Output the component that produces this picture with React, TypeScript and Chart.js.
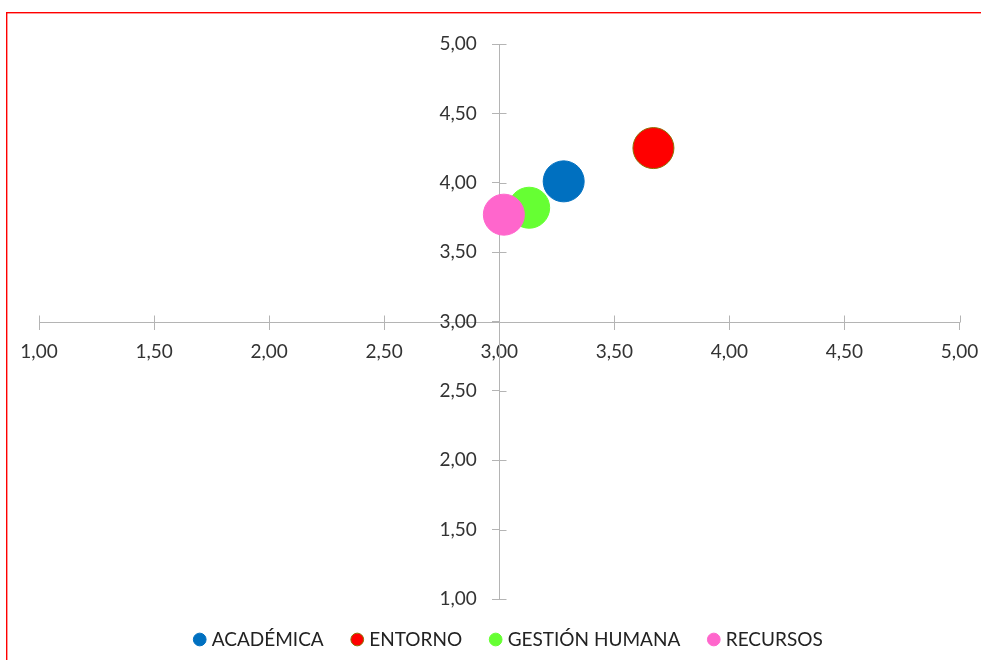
import { useEffect, useRef } from 'react';
import { Chart, registerables } from 'chart.js';

Chart.register(...registerables);

const categories = ['ACADÉMICA', 'ENTORNO', 'GESTIÓN HUMANA', 'RECURSOS'];
const xValues = [3.28, 3.67, 3.13, 3.02];
const yValues = [4.01, 4.25, 3.82, 3.77];
const bubbleSizes = [20.5, 20.5, 20.5, 20.5];
const fillColors = ['#0070C0', '#FF0000', '#66FF33', '#FF66CC'];
const borderColors = ['#0070C0', '#8C7000', '#66FF33', '#FF66CC'];
const xTickLabels = ['1,00', '1,50', '2,00', '2,50', '3,00', '3,50', '4,00', '4,50', '5,00'];
const yTickLabels = ['1,00', '1,50', '2,00', '2,50', '3,00', '3,50', '4,00', '4,50', '5,00'];
const axisMin = 1;
const axisMax = 5;
const axisStep = 0.5;
const crossValue = 3;

const AXIS_COLOR = '#B4B4B4';
const FONT = 'Lato';

const framePlugin = {
  id: 'frame',
  beforeDraw(chart: any) {
    const ctx = chart.ctx;
    ctx.save();
    ctx.fillStyle = '#FF0000';
    ctx.fillRect(6, 12, chart.width - 6, 1.4);
    ctx.fillRect(6, 12, 1.4, chart.height - 12);
    ctx.restore();
  },
};

const crossTicksPlugin = {
  id: 'crossTicks',
  beforeDatasetsDraw(chart: any) {
    const xs = chart.scales.x;
    const ys = chart.scales.y;
    const ctx = chart.ctx;
    const y0 = Math.round(ys.getPixelForValue(crossValue)) + 0.5;
    const x0 = Math.round(xs.getPixelForValue(crossValue)) + 0.5;
    ctx.save();
    ctx.strokeStyle = AXIS_COLOR;
    ctx.lineWidth = 1;
    ctx.beginPath();
    xs.ticks.forEach((t: any) => {
      const px = Math.round(xs.getPixelForValue(t.value)) + 0.5;
      ctx.moveTo(px, y0 - 7);
      ctx.lineTo(px, y0);
    });
    ys.ticks.forEach((t: any) => {
      const py = Math.round(ys.getPixelForValue(t.value)) + 0.5;
      ctx.moveTo(x0, py);
      ctx.lineTo(x0 + 7, py);
    });
    ctx.stroke();
    ctx.restore();
  },
};

export default function App() {
  const canvasRef = useRef<HTMLCanvasElement | null>(null);

  useEffect(() => {
    if (!canvasRef.current) return;
    const datasets = categories.map((name, i) => ({
      label: name,
      data: [{ x: xValues[i], y: yValues[i], r: bubbleSizes[i] }],
      backgroundColor: fillColors[i],
      borderColor: borderColors[i],
      borderWidth: 1,
      pointStyle: 'circle',
      order: categories.length - i,
    }));

    const chart = new Chart(canvasRef.current, {
      type: 'bubble',
      data: { datasets },
      options: {
        animation: false,
        responsive: false,
        events: [],
        layout: { padding: { left: 39, right: 0, top: 44, bottom: 1 } },
        plugins: {
          tooltip: { enabled: false },
          legend: {
            position: 'bottom',
            labels: {
              usePointStyle: true,
              pointStyle: 'circle',
              boxWidth: 5,
              boxHeight: 9,
              padding: 31,
              color: '#222222',
              font: { family: FONT, size: 19 },
              sort: (a: any, b: any) => a.datasetIndex - b.datasetIndex,
            },
          },
        },
        scales: {
          x: {
            type: 'linear',
            position: 'center',
            min: axisMin,
            max: axisMax,
            afterFit: (s: any) => {
              s.paddingLeft = 20;
              s.paddingRight = 20;
            },
            grid: {
              display: true,
              drawOnChartArea: false,
              drawTicks: true,
              tickLength: 7,
              color: AXIS_COLOR,
              lineWidth: 1,
            },
            border: { display: true, color: AXIS_COLOR, width: 1 },
            ticks: {
              stepSize: axisStep,
              autoSkip: false,
              maxRotation: 0,
              padding: 12,
              color: '#333333',
              font: { family: FONT, size: 19 },
              callback: (_v: any, i: number) => xTickLabels[i],
            },
          },
          y: {
            type: 'linear',
            position: 'center',
            min: axisMin,
            max: axisMax,
            grid: {
              display: true,
              drawOnChartArea: false,
              drawTicks: true,
              tickLength: 7,
              color: AXIS_COLOR,
              lineWidth: 1,
            },
            border: { display: true, color: AXIS_COLOR, width: 1 },
            ticks: {
              stepSize: axisStep,
              autoSkip: false,
              padding: 15.5,
              color: '#333333',
              font: { family: FONT, size: 19 },
              callback: (_v: any, i: number) => yTickLabels[i],
            },
          },
          pad: {
            type: 'linear',
            position: 'right',
            display: true,
            grid: { display: false },
            border: { display: false },
            ticks: { display: false },
            afterFit: (s: any) => {
              s.width = 21;
            },
          },
        },
      },
      plugins: [framePlugin, crossTicksPlugin],
    } as any);

    return () => chart.destroy();
  }, []);

  return (
    <div style={{ position: 'absolute', left: 0, top: 0, width: 981, height: 660 }}>
      <canvas ref={canvasRef} width={981} height={660} style={{ width: 981, height: 660, display: 'block' }} />
    </div>
  );
}
